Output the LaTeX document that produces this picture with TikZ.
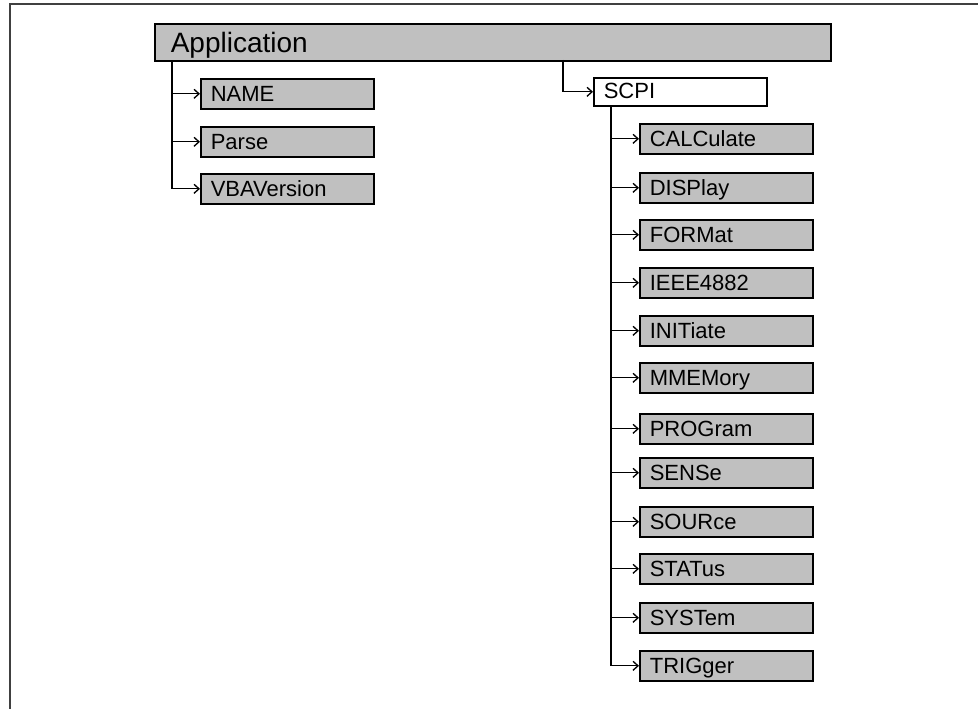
\documentclass[tikz,border=0pt]{standalone}
\usepackage{fontspec}
\setmainfont{Liberation Sans}
\usetikzlibrary{arrows.meta}
\definecolor{boxgray}{RGB}{192,192,192}
\tikzset{
  px/.style={x=0.75pt,y=-0.75pt},
  frame/.style={line width=1.5pt,black!75},
  cmdbox/.style={draw,line width=1.2pt,fill=boxgray,anchor=north west,
    inner xsep=7.5pt,inner ysep=2.75pt,text width=114.75pt,align=left,
    text height=14.5pt,text depth=2.5pt,font=\fontsize{16.5}{19}\selectfont},
  appbox/.style={cmdbox,inner xsep=12pt,inner ysep=3pt,text width=483pt,
    text height=18.75pt,text depth=3pt,font=\fontsize{21}{24}\selectfont},
  link/.style={-{Straight Barb[length=3.75pt,width=6.75pt]},line width=1pt},
}
\begin{document}
\begin{tikzpicture}[px]
\useasboundingbox (0,0) rectangle (978,709);
\draw [frame] (10,709) |- (978,4);

\node (app) [appbox] at (154,23) {Application};
\node (name) [cmdbox] at (200,78) {NAME};
\node (parse) [cmdbox] at (200,126) {Parse};
\node (vba) [cmdbox] at (200,173) {VBAVersion};
\coordinate (appstem) at ([xshift=13.5pt]app.south west);
\foreach \n in {name,parse,vba} \draw [link] (appstem) |- (\n.west);

\node (scpi) [cmdbox,fill=white,inner ysep=2pt,text height=13.75pt,text depth=3.25pt] at (593,77) {SCPI};
\coordinate (appsplit) at (563,60); \draw [link] (appsplit) |- (scpi.west);
\coordinate (scpistem) at ([xshift=13.5pt]scpi.south west);

\foreach \lbl/\y [count=\i] in {CALCulate/123,DISPlay/172,FORMat/219,IEEE4882/267,
    INITiate/315,MMEMory/362,PROGram/413,SENSe/457,SOURce/506,STATus/553,
    SYSTem/602,TRIGger/650}{
  \node (cmd\i) [cmdbox] at (639,\y) {\lbl};
  \draw [link] (scpistem) |- (cmd\i.west);
}
\end{tikzpicture}
\end{document}
